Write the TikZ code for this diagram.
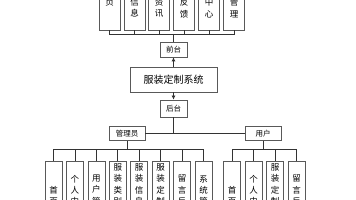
\documentclass[tikz,border=0pt]{standalone}
\usepackage{fontspec}
\newfontfamily\cjk{Noto Sans CJK SC}
\usetikzlibrary{arrows.meta}
\tikzset{
  vbox/.style={draw=black!65, line width=0.7pt, fill=white, minimum width=17pt, minimum height=68pt, inner sep=0pt, align=center, font=\cjk\fontsize{8.5}{11.2}\selectfont},
  tbox/.style={vbox, minimum width=21pt, minimum height=66pt},
  hbox/.style={draw=black!65, line width=0.7pt, fill=white, inner sep=0pt, align=center, font=\cjk\fontsize{7.5}{9}\selectfont},
  conn/.style={draw=black!80, line width=0.7pt},
  arr/.style={conn, -{Latex[length=4pt,width=4pt]}}
}
\begin{document}
\begin{tikzpicture}[x=1pt,y=-1pt]
\useasboundingbox (0,0) rectangle (356,200);
\clip (0,0) rectangle (356,200);
% top boxes
\node[tbox] (t1) at (109.5,-3) {首\\页};
\node[tbox] (t2) at (134.5,-3) {服\\装\\信\\息};
\node[tbox] (t3) at (159.2,-3) {服\\装\\资\\讯};
\node[tbox] (t4) at (184,-3) {留\\言\\反\\馈};
\node[tbox] (t5) at (209,-3) {个\\人\\中\\心};
\node[tbox] (t6) at (234,-3) {后\\台\\管\\理};
\coordinate (topbus) at (173.5,34);
\node[hbox, minimum width=27pt, minimum height=15pt] (qt) at (173.5,49.5) {前台};
\node[hbox, minimum width=87pt, minimum height=25pt, font=\cjk\fontsize{10}{12}\selectfont] (sys) at (173.5,79.5) {服装定制系统};
\node[hbox, minimum width=27pt, minimum height=17pt] (ht) at (173.5,108.5) {后台};
\coordinate (midbus) at (173.5,133.5);
\node[hbox, minimum width=36pt, minimum height=14.5pt] (gly) at (127,133.5) {管理员};
\node[hbox, minimum width=36pt, minimum height=14.5pt] (yh) at (263,133.5) {用户};
\coordinate (abus) at (127,149);
\coordinate (ubus) at (263,149.5);
% admin children
\node[vbox] (a1) at (53.5,195.5) {首\\页};
\node[vbox] (a2) at (74.9,195.5) {个\\人\\中\\心};
\node[vbox] (a3) at (96.4,195.5) {用\\户\\管\\理};
\node[vbox] (a4) at (117.8,195.5) {服\\装\\类\\别\\管\\理};
\node[vbox] (a5) at (139.2,195.5) {服\\装\\信\\息\\管\\理};
\node[vbox] (a6) at (160.6,195.5) {服\\装\\定\\制\\管\\理};
\node[vbox] (a7) at (182.1,195.5) {留\\言\\反\\馈};
\node[vbox] (a8) at (203.5,195.5) {系\\统\\管\\理};
% user children
\node[vbox] (u1) at (232,195.5) {首\\页};
\node[vbox] (u2) at (253.5,195.5) {个\\人\\中\\心};
\node[vbox] (u3) at (275,195.5) {服\\装\\定\\制\\管\\理};
\node[vbox] (u4) at (296.5,195.5) {留\\言\\反\\馈};
% connectors
\foreach \n in {t1,t2,t3,t4,t5,t6} \draw[conn] (\n.south) |- (topbus);
\draw[conn] (topbus) -- (qt.north);
\draw[arr] (sys.north) -- (qt.south);
\draw[arr] (sys.south) -- (ht.north);
\draw[conn] (ht.south) -- (midbus);
\draw[conn] (gly.east) -- (yh.west);
\draw[conn] (gly.south) -- (abus);
\draw[conn] (yh.south) -- (ubus);
\foreach \n in {a1,a2,a3,a4,a5,a6,a7,a8} \draw[conn] (\n.north) |- (abus);
\foreach \n in {u1,u2,u3,u4} \draw[conn] (\n.north) |- (ubus);
\end{tikzpicture}
\end{document}
